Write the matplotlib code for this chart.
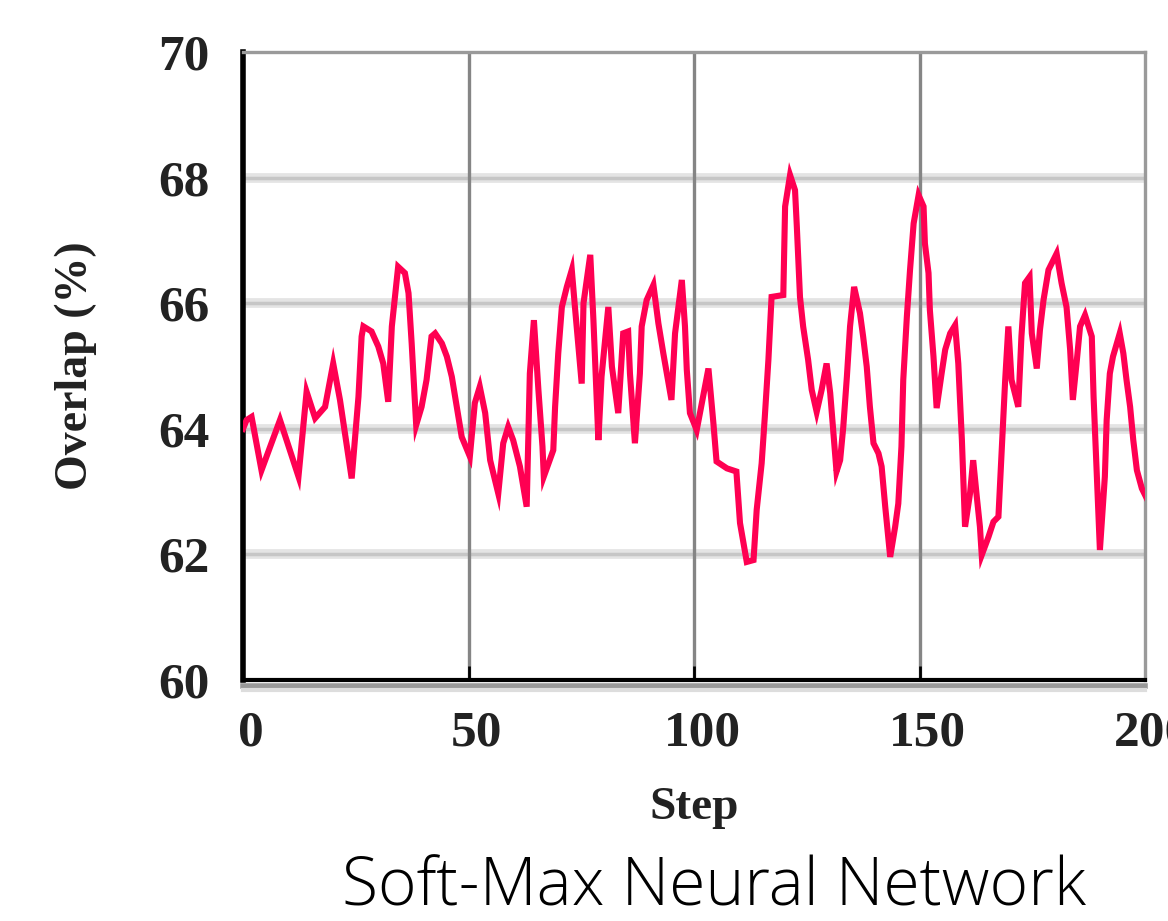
import matplotlib
matplotlib.use("Agg")
import matplotlib.pyplot as plt
from matplotlib.lines import Line2D
from matplotlib.transforms import ScaledTranslation

steps = [0, 0.8, 1.9, 4.1, 8.2, 12.3, 14.1, 16.0, 18.2, 20.0, 21.5, 24.1, 25.6, 26.3, 26.7, 28.5,
         30.0, 31.1, 32.2, 33.0, 34.4, 35.9, 36.7, 37.4, 38.4, 39.6, 40.7, 41.8, 42.6, 44.1,
         45.2, 46.3, 47.4, 48.5, 50.3, 51.4, 52.5, 53.7, 54.8, 56.6, 57.7, 58.8, 59.9, 61.4,
         62.9, 63.6, 64.5, 65.5, 66.4, 66.7, 68.8, 69.2, 69.9, 70.7, 71.8, 72.9, 73.6, 75.1,
         75.5, 77.0, 77.7, 78.8, 79.5, 81.0, 81.8, 83.2, 84.3, 85.4, 85.8, 86.9, 88.0, 88.4,
         89.5, 91.0, 92.1, 93.2, 95.0, 95.8, 97.3, 98.0, 98.4, 99.1, 100.6, 103.2, 104.3,
         105.0, 107.3, 109.4, 110.2, 111.7, 113.2, 113.9, 115.0, 115.7, 116.5, 117.2, 119.8,
         120.2, 121.3, 122.4, 122.8, 123.5, 124.2, 125.3, 126.1, 127.2, 128.3, 129.4, 130.2,
         131.6, 132.4, 133.1, 133.9, 134.6, 135.5, 136.8, 137.5, 138.3, 139.0, 139.8, 140.9,
         141.6, 142.4, 143.5, 144.6, 145.3, 146.0, 146.4, 147.2, 147.9, 148.7, 149.8, 150.9,
         151.2, 152.0, 152.3, 153.1, 153.8, 154.9, 155.7, 156.8, 157.9, 158.6, 159.4, 160.1,
         161.2, 161.9, 162.7, 163.4, 163.8, 165.3, 166.4, 167.5, 168.2, 169.0, 169.7, 170.4,
         171.9, 172.6, 173.4, 174.4, 174.9, 176.0, 176.7, 177.5, 178.6, 180.4, 181.5, 182.6,
         183.4, 184.0, 184.9, 185.6, 186.7, 188.2, 188.6, 189.3, 190.0, 191.1, 191.5, 192.2,
         192.9, 194.4, 195.2, 195.9, 196.7, 197.4, 198.2, 199.3, 200.4]
overlap = [64.0, 64.14, 64.19, 63.34, 64.14, 63.24, 64.59, 64.17, 64.35, 65.04, 64.46, 63.21,
           64.51, 65.47, 65.63, 65.55, 65.31, 65.04, 64.43, 65.63, 66.58, 66.48, 66.16, 65.36,
           64.06, 64.35, 64.78, 65.47, 65.52, 65.36, 65.15, 64.83, 64.35, 63.87, 63.56, 64.41,
           64.67, 64.25, 63.50, 62.97, 63.77, 64.03, 63.82, 63.40, 62.76, 64.88, 65.73, 64.62,
           63.72, 63.24, 63.66, 64.35, 65.20, 65.94, 66.26, 66.53, 65.94, 64.72, 66.0, 66.77,
           65.73, 63.82, 64.83, 65.94, 64.99, 64.25, 65.52, 65.55, 64.88, 63.77, 64.88, 65.63,
           66.05, 66.29, 65.68, 65.20, 64.46, 65.52, 66.37, 65.63, 64.94, 64.25, 63.98, 64.96,
           64.09, 63.48, 63.37, 63.32, 62.50, 61.88, 61.91, 62.71, 63.45, 64.19, 65.10, 66.10,
           66.13, 67.54, 68.04, 67.80, 67.22, 66.10, 65.63, 65.10, 64.62, 64.27, 64.62, 65.04,
           64.57, 63.32, 63.50, 64.03, 64.83, 65.63, 66.26, 65.84, 65.47, 64.99, 64.35, 63.77,
           63.61, 63.40, 62.76, 61.96, 62.44, 62.81, 63.72, 64.78, 65.79, 66.53, 67.27, 67.72,
           67.54, 66.95, 66.48, 65.89, 65.15, 64.33, 64.88, 65.26, 65.52, 65.65, 65.04, 63.82,
           62.44, 62.97, 63.50, 62.92, 62.44, 61.99, 62.28, 62.52, 62.60, 63.61, 64.78, 65.63,
           64.78, 64.35, 65.47, 66.32, 66.42, 65.52, 64.96, 65.57, 66.05, 66.53, 66.79, 66.32,
           65.94, 65.26, 64.46, 65.10, 65.63, 65.81, 65.47, 64.51, 63.29, 62.07, 63.24, 64.14,
           64.88, 65.15, 65.52, 65.20, 64.78, 64.35, 63.82, 63.34, 63.05, 62.89]

x_ticks = [0, 50, 100, 150, 200]
y_ticks = [60, 62, 64, 66, 68, 70]
h_grid = [62, 64, 66, 68]
v_grid = [50, 100, 150]

fig = plt.figure(figsize=(11.68, 9.21), dpi=100)
ax = fig.add_axes([243/1168, 1-680/921, (1145-243)/1168, (680-52)/921])
ax.set_xlim(0, 200)
ax.set_ylim(60, 70)

for g in h_grid:
    ax.axhline(g, color='#e4e4e4', lw=7, zorder=1)
    ax.axhline(g, color='#c6c6c6', lw=2.5, zorder=1.1)
for g in v_grid:
    ax.axvline(g, color='#858585', lw=2.4, zorder=1.2)

ax.plot(steps, overlap, color='#ff0052', lw=4.4, zorder=3, solid_joinstyle='miter')

for s in ['top', 'right']:
    ax.spines[s].set_color('#9a9a9a')
    ax.spines[s].set_linewidth(2.4)
ax.spines['left'].set_color('black')
ax.spines['left'].set_linewidth(4)
ax.spines['bottom'].set_color('black')
ax.spines['bottom'].set_linewidth(3)

# grey shadow under the x axis line
fig.add_artist(Line2D([243/1168, 1145/1168], [1-686/921, 1-686/921], color='#999999', lw=4))
fig.add_artist(Line2D([243/1168, 1145/1168], [1-690/921, 1-690/921], color='#dddddd', lw=3))

ax.set_xticks(x_ticks)
ax.set_yticks(y_ticks)
ax.tick_params(axis='x', direction='in', length=10, width=2, pad=22, colors='black')
ax.tick_params(axis='y', direction='in', length=0, pad=24)
shift = ScaledTranslation(8/100, 0, fig.dpi_scale_trans)
for lab in ax.get_xticklabels():
    lab.set_transform(lab.get_transform() + shift)
for lab in ax.get_xticklabels() + ax.get_yticklabels():
    lab.set_fontfamily('Liberation Serif')
    lab.set_fontweight('bold')
    lab.set_fontsize(37)
    lab.set_color('#222222')

ax.set_xlabel('Step', fontfamily='Liberation Serif', fontweight='bold', fontsize=34,
              labelpad=22, color='#222222')
ax.set_ylabel('Overlap (%)', fontfamily='Liberation Serif', fontweight='bold', fontsize=33,
              labelpad=44, color='#222222')

fig.text(714/1168, 1-888/921, 'Soft-Max Neural Network', fontfamily='Open Sans',
         fontweight='light', fontsize=47.5, ha='center', va='center', color='black')

fig.savefig('out.png', dpi=100)
